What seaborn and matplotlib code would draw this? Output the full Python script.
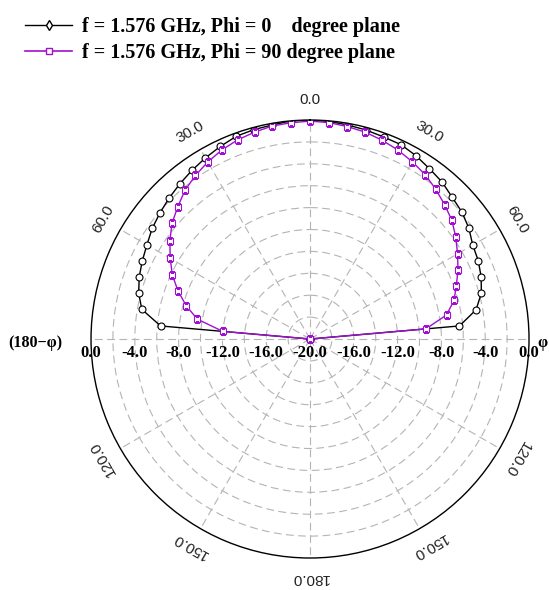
import numpy as np
import seaborn as sns
import matplotlib.pyplot as plt
from matplotlib.lines import Line2D

# elevation angle (deg), clockwise from zenith
angles = np.arange(-90, 95, 5)
# gain in dB, Phi = 0 plane
gain_phi0 = [-20.0, -6.3, -4.4, -3.8, -3.4, -3.1, -2.8, -2.4, -2.1, -1.8,
             -1.5, -1.2, -0.9, -0.6, -0.3, -0.2, -0.15, 0.0, 0.0,
             -0.05, -0.15, -0.24, -0.36, -0.4, -0.66, -1.0, -1.26, -1.66,
             -1.92, -2.3, -2.84, -3.05, -3.37, -3.8, -4.6, -6.3, -20.0]
# gain in dB, Phi = 90 plane
gain_phi90 = [-20.0, -12.0, -9.55, -8.3, -7.17, -6.12, -5.26, -4.37, -3.55, -2.92,
              -2.25, -1.76, -1.33, -0.95, -0.65, -0.44, -0.24, -0.17, -0.1,
              -0.16, -0.3, -0.45, -0.69, -0.97, -1.31, -1.67, -2.14, -2.63,
              -3.1, -3.75, -4.44, -5.09, -5.78, -6.39, -7.34, -9.38, -20.0]

series_labels = ["f = 1.576 GHz, Phi = 0    degree plane",
                 "f = 1.576 GHz, Phi = 90 degree plane"]
theta_ticks = [0, 30, 60, 120, 150, 180, 210, 240, 300, 330]
theta_ticklabels = ["0.0", "30.0", "60.0", "120.0", "150.0", "180.0",
                    "150.0", "120.0", "60.0", "30.0"]
r_ticks = [0, -4, -8, -12, -16]

purple = "#a010d0"
grid_col = "#b4b4b4"
serif_bold = dict(family="Liberation Serif", weight="bold")

fig = plt.figure(figsize=(5.49, 5.90), dpi=100)
ax = fig.add_axes([0.1658, 0.0542, 0.7978, 0.7424], projection="polar")
ax.set_theta_zero_location("N")
ax.set_theta_direction(-1)
ax.set_ylim(-20, 0)

theta = np.deg2rad(angles)
sns.lineplot(x=theta, y=gain_phi0, ax=ax, color="black", lw=1, sort=False,
             marker="o", markersize=5, markerfacecolor="white",
             markeredgecolor="black", markeredgewidth=0.8)
sns.lineplot(x=theta, y=gain_phi90, ax=ax, color=purple, lw=1, sort=False,
             marker="s", markersize=4.5, markerfacecolor="white",
             markeredgecolor=purple, markeredgewidth=0.8)

# grid
ax.set_yticks(np.arange(-18, 0, 2))
ax.set_yticklabels([])
ax.set_xticks(np.deg2rad(np.arange(0, 360, 30)))
ax.set_xticklabels([])
ax.grid(True, color=grid_col, linestyle=(0, (7, 4)), lw=0.8)
ax.spines["polar"].set_linewidth(1)
ax.spines["polar"].set_color("black")

# angle labels
for t, lab in zip(theta_ticks, theta_ticklabels):
    ax.text(np.deg2rad(t), 1.8, lab, ha="center", va="center",
            rotation=-t, rotation_mode="anchor", fontsize=11,
            family="Liberation Sans", color="#222222")

# radial labels along the horizontal axis
for side in (-1, 1):
    for v in r_ticks:
        x = 0.5 + side * 0.5 * (v + 20) / 20
        ax.text(x, 0.5 - 14 / 438, f"{v:.1f}", transform=ax.transAxes,
                ha="center", va="center", fontsize=12, **serif_bold)
ax.text(0.5, 0.5 - 14 / 438, "-20.0", transform=ax.transAxes,
        ha="center", va="center", fontsize=12, **serif_bold)

fig.text(8 / 549, 1 - 343 / 590, "(180\u2212\u03c6)", ha="left", va="center",
         fontsize=11.5, **serif_bold)
fig.text(548 / 549, 1 - 343 / 590, "\u03c6", ha="right", va="center",
         fontsize=11.5, **serif_bold)

handles = [Line2D([], [], color="black", lw=1, marker="d", markersize=5,
                  markerfacecolor="white", markeredgecolor="black"),
           Line2D([], [], color=purple, lw=1.2, marker="s", markersize=4.5,
                  markerfacecolor="white", markeredgecolor=purple)]
fig.legend(handles, series_labels, loc="upper left",
           bbox_to_anchor=(25 / 549, 1 - 17 / 590), frameon=False,
           borderpad=0, borderaxespad=0, handlelength=2.35, handletextpad=0.5,
           labelspacing=0.3, prop=dict(family="Liberation Serif", weight="bold", size=14.5))

fig.savefig("out.png", dpi=100, facecolor="white")
